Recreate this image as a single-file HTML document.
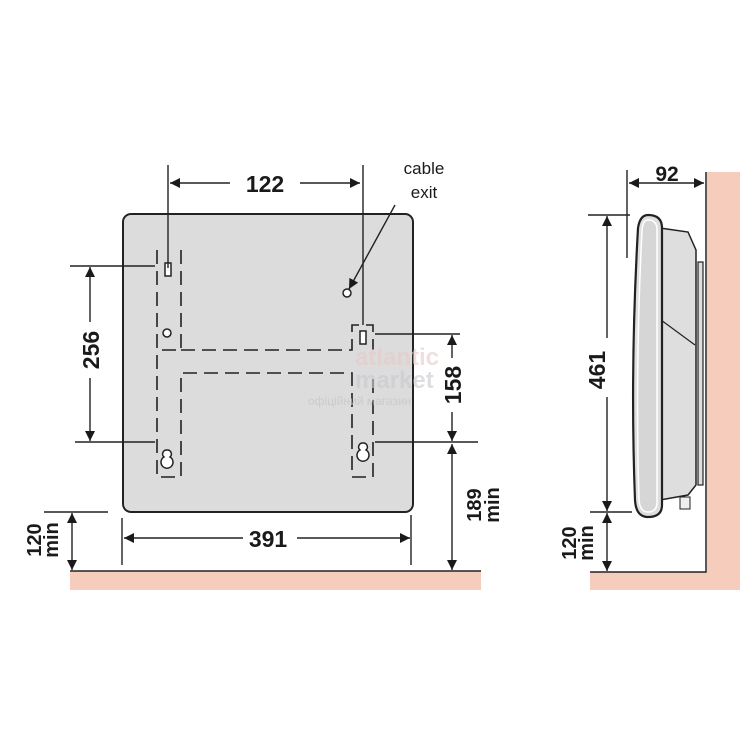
<!DOCTYPE html>
<html><head><style>
html,body{margin:0;padding:0;background:#fff;}
svg text{font-family:"Liberation Sans",sans-serif;font-weight:bold;fill:#1a1a1a;}
</style></head><body>
<svg width="750" height="750" viewBox="0 0 750 750" xmlns="http://www.w3.org/2000/svg">
<defs>
<marker id="a" viewBox="0 0 10 10" refX="10" refY="5" markerWidth="10" markerHeight="10" markerUnits="userSpaceOnUse" orient="auto-start-reverse">
<path d="M0,0 L10,5 L0,10 z" fill="#1a1a1a"/></marker>
</defs>
<rect x="70" y="571" width="411" height="19" fill="#f6cdbd"/>
<line x1="70" y1="571" x2="481" y2="571" stroke="#222" stroke-width="1.5"/>
<rect x="707" y="172" width="33" height="418" fill="#f6cdbd"/>
<rect x="590" y="572" width="150" height="18" fill="#f6cdbd"/>
<polyline points="590,572 706,572 706,172" fill="none" stroke="#222" stroke-width="1.5"/>

<rect x="123" y="214" width="290" height="298" rx="8" fill="#dcdcdc" stroke="#222" stroke-width="2"/>
<g stroke="#222" stroke-width="1.6" fill="none" stroke-dasharray="14,7">
<path d="M157,250 V477 H181 V373 H352 V477 H373 V373"/>
<path d="M181,250 V350 H157"/>
<path d="M181,350 H352 V325 H373 V350"/>
</g>
<rect x="165" y="263" width="6" height="13" fill="#fff" stroke="#222" stroke-width="1.5"/>
<rect x="360" y="331" width="6" height="13" fill="#fff" stroke="#222" stroke-width="1.5"/>
<circle cx="167" cy="333" r="4" fill="#fff" stroke="#222" stroke-width="1.5"/>
<circle cx="347" cy="293" r="4" fill="#fff" stroke="#222" stroke-width="1.5"/>
<path d="M167,450 a4,4 0 0 1 3,7 a6,6 0 1 1 -6,0 a4,4 0 0 1 3,-7z" fill="#fff" stroke="#222" stroke-width="1.5"/>
<path d="M363,443 a4,4 0 0 1 3,7 a6,6 0 1 1 -6,0 a4,4 0 0 1 3,-7z" fill="#fff" stroke="#222" stroke-width="1.5"/>

<text x="355" y="365" font-size="24" style="fill:#e8c9c9" opacity="0.6">atlantic</text>
<text x="355" y="388" font-size="24" style="fill:#c9c9d0" opacity="0.6">market</text>
<text x="308" y="405" font-size="12" style="fill:#c4c4c8;font-weight:normal" opacity="0.7">офіційний магазин</text>

<g stroke="#222" stroke-width="1.4" fill="none">
<line x1="168" y1="165" x2="168" y2="268"/>
<line x1="363" y1="165" x2="363" y2="325"/>
<line x1="170" y1="183" x2="230" y2="183" marker-start="url(#a)"/>
<line x1="300" y1="183" x2="360" y2="183" marker-end="url(#a)"/>
<line x1="395" y1="205" x2="349" y2="289" marker-end="url(#a)"/>
<line x1="70" y1="266" x2="155" y2="266"/>
<line x1="75" y1="442" x2="155" y2="442"/>
<line x1="90" y1="267" x2="90" y2="322" marker-start="url(#a)"/>
<line x1="90" y1="378" x2="90" y2="441" marker-end="url(#a)"/>
<line x1="375" y1="334" x2="460" y2="334"/>
<line x1="375" y1="442" x2="478" y2="442"/>
<line x1="452" y1="335" x2="452" y2="358" marker-start="url(#a)"/>
<line x1="452" y1="412" x2="452" y2="441" marker-end="url(#a)"/>
<line x1="452" y1="444" x2="452" y2="570" marker-start="url(#a)" marker-end="url(#a)"/>
<line x1="122" y1="518" x2="122" y2="565"/>
<line x1="411" y1="515" x2="411" y2="565"/>
<line x1="124" y1="538" x2="243" y2="538" marker-start="url(#a)"/>
<line x1="297" y1="538" x2="410" y2="538" marker-end="url(#a)"/>
<line x1="44" y1="512" x2="108" y2="512"/>
<line x1="72" y1="513" x2="72" y2="570" marker-start="url(#a)" marker-end="url(#a)"/>
</g>
<text x="265" y="192" font-size="23" text-anchor="middle">122</text>
<text x="424" y="174" font-size="17" text-anchor="middle" style="font-weight:normal">cable</text>
<text x="424" y="198" font-size="17" text-anchor="middle" style="font-weight:normal">exit</text>
<text transform="translate(99,350) rotate(-90)" font-size="23" text-anchor="middle">256</text>
<text transform="translate(461,385) rotate(-90)" font-size="23" text-anchor="middle">158</text>
<text transform="translate(481,505) rotate(-90)" font-size="20" text-anchor="middle">189</text>
<text transform="translate(499,505) rotate(-90)" font-size="20" text-anchor="middle">min</text>
<text x="268" y="547" font-size="23" text-anchor="middle">391</text>
<text transform="translate(41,540) rotate(-90)" font-size="20" text-anchor="middle">120</text>
<text transform="translate(58,540) rotate(-90)" font-size="20" text-anchor="middle">min</text>

<rect x="698" y="262" width="5" height="223" fill="#ddd" stroke="#222" stroke-width="1.2"/>
<path d="M660,228 L688,232 L696,250 L696,485 L688,495 L660,500 Z" fill="#dedede" stroke="#222" stroke-width="1.5"/>
<path d="M661,320 L695,345" stroke="#222" stroke-width="1.2" fill="none"/>
<rect x="680" y="497" width="10" height="12" fill="#eee" stroke="#222" stroke-width="1"/>
<path d="M648,215 Q662,215 662,228 L662,505 Q662,517 648,517 Q636,517 635,500 Q630,370 638,228 Q640,215 648,215 Z" fill="#dedede" stroke="#222" stroke-width="2.2"/>
<path d="M648,220 Q657,220 657,230 L657,502 Q657,512 648,512 Q640,512 639,500 Q635,370 642,230 Q643,220 648,220 Z" fill="#d6d6d6" stroke="#fff" stroke-width="1.5"/>
<g stroke="#222" stroke-width="1.4" fill="none">
<line x1="627" y1="170" x2="627" y2="258"/>
<line x1="629" y1="183" x2="704" y2="183" marker-start="url(#a)" marker-end="url(#a)"/>
<line x1="588" y1="215" x2="630" y2="215"/>
<line x1="590" y1="512" x2="632" y2="512"/>
<line x1="607" y1="216" x2="607" y2="338" marker-start="url(#a)"/>
<line x1="607" y1="397" x2="607" y2="511" marker-end="url(#a)"/>
<line x1="607" y1="513" x2="607" y2="571" marker-start="url(#a)" marker-end="url(#a)"/>
</g>
<text x="667" y="181" font-size="21" text-anchor="middle">92</text>
<text transform="translate(605,370) rotate(-90)" font-size="23" text-anchor="middle">461</text>
<text transform="translate(576,543) rotate(-90)" font-size="20" text-anchor="middle">120</text>
<text transform="translate(593,543) rotate(-90)" font-size="20" text-anchor="middle">min</text>
</svg>
</body></html>
